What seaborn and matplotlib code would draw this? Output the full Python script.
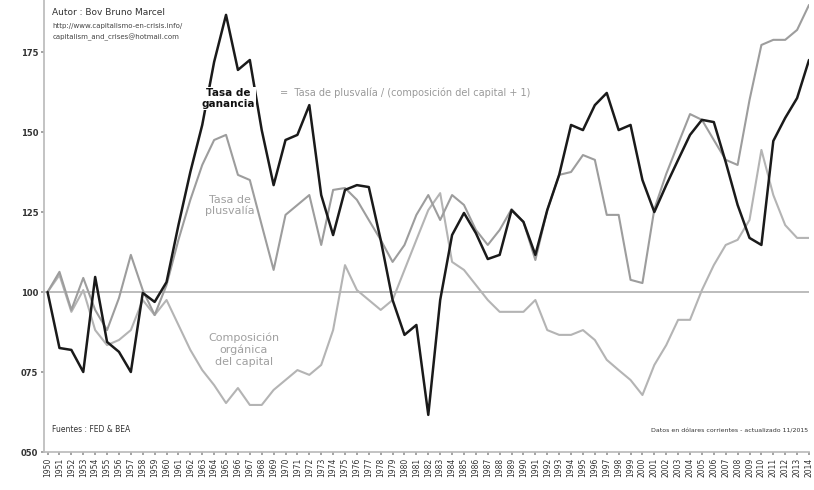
import numpy as np
import pandas as pd
import matplotlib
matplotlib.use("Agg")
import matplotlib.pyplot as plt
import seaborn as sns

years = list(range(1950, 2015))

tasa_ganancia = [100.0, 82.5, 81.9, 75.0, 104.7, 84.4, 81.3, 75.0, 99.7, 96.9,
                 103.1, 120.9, 137.5, 152.2, 171.9, 186.6, 169.4, 172.5, 150.6, 133.4,
                 147.5, 149.1, 158.4, 130.3, 117.8, 131.9, 133.4, 132.8, 116.3, 97.5,
                 86.6, 89.7, 61.6, 97.5, 117.8, 124.7, 118.4, 110.3, 111.6, 125.6,
                 121.9, 111.6, 125.6, 136.6, 152.2, 150.6, 158.4, 162.2, 150.6, 152.2,
                 135.0, 125.0, 133.4, 141.3, 149.1, 153.8, 153.1, 140.6, 127.2, 116.9,
                 114.7, 147.2, 154.4, 160.6, 172.5]

tasa_plusvalia = [100.0, 106.3, 94.4, 104.4, 94.4, 88.1, 98.1, 111.6, 100.6, 92.8,
                  102.2, 116.3, 128.8, 139.7, 147.5, 149.1, 136.6, 135.0, 120.9, 106.9,
                  124.1, 127.2, 130.3, 114.7, 131.9, 132.5, 128.8, 122.5, 116.3, 109.4,
                  114.7, 124.1, 130.3, 122.5, 130.3, 127.2, 119.4, 114.7, 119.4, 125.9,
                  121.9, 110.0, 125.6, 136.6, 137.5, 142.8, 141.3, 124.1, 124.1, 103.8,
                  102.8, 125.9, 136.9, 146.3, 155.6, 153.8, 147.5, 141.3, 139.7, 160.0,
                  177.2, 178.8, 178.8, 181.9, 189.7]

composicion = [100.0, 105.3, 93.8, 100.6, 88.1, 83.4, 85.0, 88.1, 97.5, 92.8,
               97.5, 89.7, 81.9, 75.6, 70.9, 65.3, 70.0, 64.7, 64.7, 69.4,
               72.5, 75.6, 74.1, 77.2, 88.1, 108.4, 100.6, 97.5, 94.4, 97.5,
               106.9, 116.3, 125.6, 130.9, 109.4, 106.9, 102.2, 97.5, 93.8, 93.8,
               93.8, 97.5, 88.1, 86.6, 86.6, 88.1, 85.0, 78.8, 75.6, 72.5,
               67.8, 77.2, 83.4, 91.3, 91.3, 100.6, 108.4, 114.7, 116.3, 122.5,
               144.4, 130.3, 120.9, 116.9, 116.9]

serie_names = ["Tasa de ganancia", "Tasa de plusvalía", "Composición orgánica del capital"]
ytick_vals = [50, 75, 100, 125, 150, 175]
ytick_labels = ["050", "075", "100", "125", "150", "175"]

df = pd.DataFrame({
    "year": years * 3,
    "valor": tasa_ganancia + tasa_plusvalia + composicion,
    "serie": [serie_names[0]] * len(years) + [serie_names[1]] * len(years) + [serie_names[2]] * len(years),
})

sns.set_theme(style="white")
plt.rcParams['font.family'] = ['DejaVu Sans']

fig = plt.figure(figsize=(8.14, 4.9), dpi=100)
ax = fig.add_axes([44 / 814, 1 - 452 / 490, (809 - 44) / 814, 452 / 490])

palette = {serie_names[0]: "#1a1a1a", serie_names[1]: "#9d9d9d", serie_names[2]: "#b4b4b4"}
sizes = {serie_names[0]: 1.8, serie_names[1]: 1.5, serie_names[2]: 1.5}

ax.axhline(100, color="#b0b0b0", lw=1.2, zorder=1)
sns.lineplot(data=df, x="year", y="valor", hue="serie", size="serie",
             palette=palette, sizes=sizes, hue_order=serie_names[::-1],
             size_order=serie_names[::-1], legend=False, ax=ax, zorder=3)

ax.set_xlim(years[0] - 0.3, years[-1])
ax.set_ylim(50, 191.25)
ax.set_xticks(years)
ax.set_xticklabels([str(y) for y in years], rotation=90, fontsize=5.5, color="#333333")
ax.set_yticks(ytick_vals)
ax.set_yticklabels(ytick_labels, fontsize=6, color="#333333", fontweight="bold")
ax.tick_params(axis="both", length=2, pad=2, color="#999999")
ax.tick_params(axis="y", direction="out", left=True)
ax.tick_params(axis="x", direction="out", bottom=True)
ax.set_xlabel("")
ax.set_ylabel("")
for s in ["top", "right"]:
    ax.spines[s].set_visible(False)
ax.spines["left"].set_color("#bbbbbb")
ax.spines["bottom"].set_color("#bbbbbb")
ax.grid(False)

# annotations
ax.text(1950.4, 186.5, "Autor : Bov Bruno Marcel", fontsize=6.5, color="#333333")
ax.text(1950.4, 182.5, "http://www.capitalismo-en-crisis.info/", fontsize=5, color="#444444")
ax.text(1950.4, 179.0, "capitalism_and_crises@hotmail.com", fontsize=5, color="#444444")

ax.text(1965.2, 160.5, "Tasa de\nganancia", fontsize=7.5, fontweight="bold", color="#111111",
        ha="center", va="center", linespacing=1.1,
        bbox=dict(facecolor="white", edgecolor="none", pad=0.5))
ax.text(1969.5, 162.2, "=  Tasa de plusvalía / (composición del capital + 1)",
        fontsize=7, color="#999999", va="center")

ax.text(1965.3, 127.0, "Tasa de\nplusvalía", fontsize=8, color="#a0a0a0",
        ha="center", va="center", linespacing=1.1)
ax.text(1966.5, 82.0, "Composición\norgánica\ndel capital", fontsize=8, color="#a0a0a0",
        ha="center", va="center", linespacing=1.2)

ax.text(1950.4, 56.2, "Fuentes : FED & BEA", fontsize=5.5, color="#333333")
ax.text(2013.9, 56.2, "Datos en dólares corrientes - actualizado 11/2015",
        fontsize=4.5, color="#333333", ha="right")

fig.savefig("out.png", dpi=100)
